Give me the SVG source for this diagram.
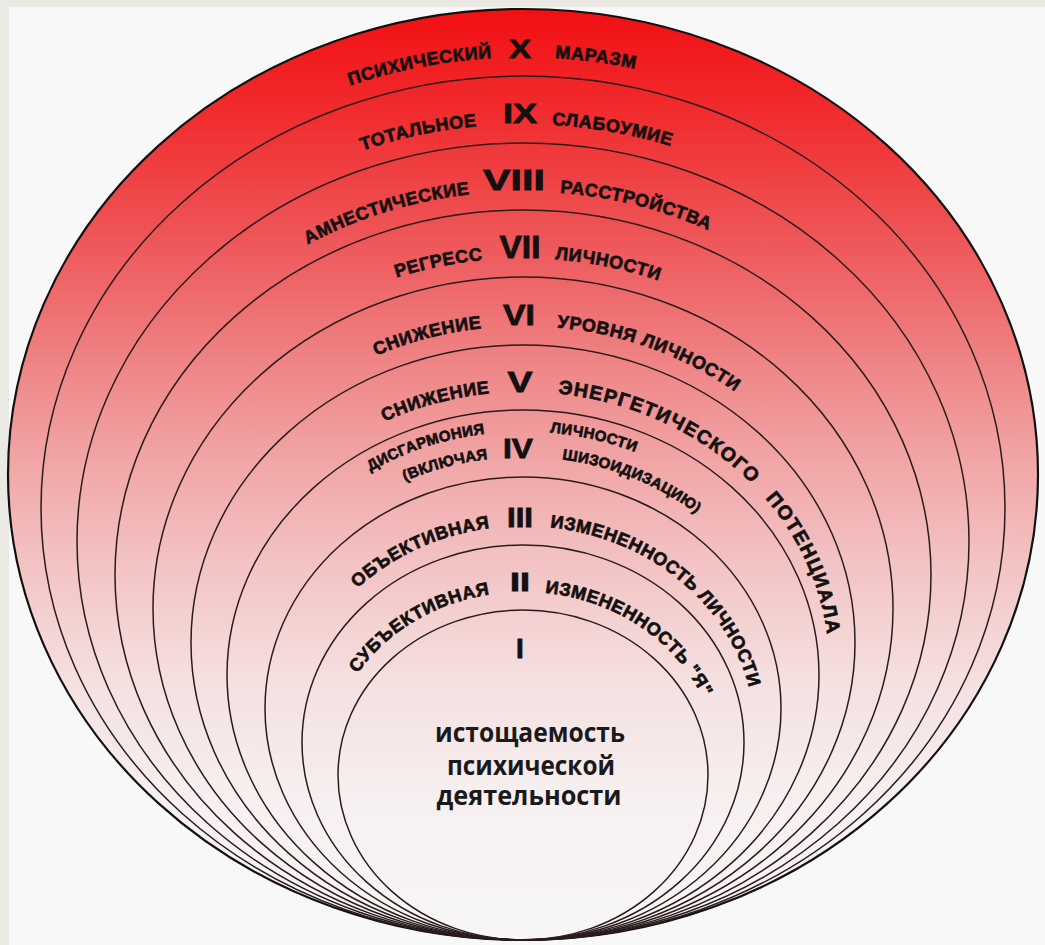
<svg xmlns="http://www.w3.org/2000/svg" width="1045" height="945" viewBox="0 0 1045 945">
<style>
.r{fill:none;stroke:#2a1c1c;stroke-width:1.5}
.w{font-family:"Liberation Sans",Arial,sans-serif;font-weight:bold;font-size:18px;letter-spacing:0.6px;fill:#141010;stroke:#141010;stroke-width:0.7}
.s{font-size:15px;letter-spacing:0.4px}
.n{font-family:"Liberation Sans",Arial,sans-serif;font-weight:bold;fill:#141010;stroke:#141010;stroke-width:0.8;text-anchor:middle}
.c{font-family:"Open Sans","Liberation Sans",sans-serif;font-weight:bold;font-size:26px;fill:#1a1a1a;text-anchor:middle}
</style>
<defs>
<linearGradient id="g" gradientUnits="userSpaceOnUse" x1="0" y1="9" x2="0" y2="940">
<stop offset="0" stop-color="#f20f12"/>
<stop offset="0.119" stop-color="#f02e30"/>
<stop offset="0.259" stop-color="#ee5a5c"/>
<stop offset="0.398" stop-color="#ef8a8b"/>
<stop offset="0.484" stop-color="#f1a5a6"/>
<stop offset="0.592" stop-color="#f3c2c2"/>
<stop offset="0.721" stop-color="#f5e0e0"/>
<stop offset="0.85" stop-color="#f7f0f0"/>
<stop offset="1" stop-color="#f8f6f6"/>
</linearGradient>
<path id="pL10" d="M523,940 A491.2,441.4 0 0 1 492,58.1"/>
<path id="pR10" d="M555,58.1 A491.2,441.4 0 0 1 523,940"/>
<path id="pL9" d="M523,940 A456.1,407.9 0 0 1 477,126.3"/>
<path id="pR9" d="M552,125 A456.1,407.9 0 0 1 523,940"/>
<path id="pL8" d="M523,940 A418.6,374.4 0 0 1 470,194.2"/>
<path id="pR8" d="M560,192.7 A418.6,374.4 0 0 1 523,940"/>
<path id="pL7" d="M523,940 A380.6,340.9 0 0 1 483,260.1"/>
<path id="pR7" d="M555,259.4 A380.6,340.9 0 0 1 523,940"/>
<path id="pL6" d="M523,940 A342.6,307 0 0 1 482,328.2"/>
<path id="pR6" d="M557,327.5 A342.6,307 0 0 1 523,940"/>
<path id="pL5" d="M523,940 A306.1,274.1 0 0 1 490,393.4"/>
<path id="pR5" d="M558,393.6 A306.1,274.1 0 0 1 523,940"/>
<path id="pL4a" d="M523,940 A283.84,254.28 0 0 1 485,433.73"/>
<path id="pR4a" d="M550,432.59 A283.84,254.28 0 0 1 523,940"/>
<path id="pL4b" d="M523,940 A269.4,241.55 0 0 1 488,458.95"/>
<path id="pR4b" d="M562,459.44 A269.4,241.55 0 0 1 523,940"/>
<path id="pL3" d="M523,940 A231.4,207 0 0 1 490,528.1"/>
<path id="pR3" d="M550,527.4 A231.4,207 0 0 1 523,940"/>
<path id="pL2" d="M523,940 A195.1,174.1 0 0 1 490,594.3"/>
<path id="pR2" d="M545,592.9 A195.1,174.1 0 0 1 523,940"/>
</defs>
<rect width="1045" height="945" fill="#f8f8f8"/>
<rect width="9" height="945" fill="#ebe9e3"/>
<rect width="1045" height="7" fill="#ebe9e3"/>

<g id="ring-X">
<ellipse cx="523" cy="474.5" rx="515" ry="465.5" fill="url(#g)" stroke="#111" stroke-width="2.2"/>
<text class="w"><textPath href="#pL10" startOffset="100%" text-anchor="end">ПСИХИЧЕСКИЙ</textPath></text>
<text class="n" x="520" y="58" font-size="25" textLength="22" lengthAdjust="spacingAndGlyphs">X</text>
<text class="w"><textPath href="#pR10" startOffset="0">МАРАЗМ</textPath></text>
</g>
<g id="ring-IX">
<ellipse class="r" cx="523" cy="508" rx="482" ry="432"/>
<text class="w"><textPath href="#pL9" startOffset="100%" text-anchor="end">ТОТАЛЬНОЕ</textPath></text>
<text class="n" x="520" y="123" font-size="28" textLength="34" lengthAdjust="spacingAndGlyphs">IX</text>
<text class="w"><textPath href="#pR9" startOffset="0">СЛАБОУМИЕ</textPath></text>
</g>
<g id="ring-VIII">
<ellipse class="r" cx="523" cy="541.5" rx="446" ry="398.5"/>
<text class="w"><textPath href="#pL8" startOffset="100%" text-anchor="end">АМНЕСТИЧЕСКИЕ</textPath></text>
<text class="n" x="514" y="190" font-size="30" textLength="62" lengthAdjust="spacingAndGlyphs">VIII</text>
<text class="w"><textPath href="#pR8" startOffset="0">РАССТРОЙСТВА</textPath></text>
</g>
<g id="ring-VII">
<ellipse class="r" cx="523" cy="575" rx="408" ry="365"/>
<text class="w"><textPath href="#pL7" startOffset="100%" text-anchor="end">РЕГРЕСС</textPath></text>
<text class="n" x="520" y="258" font-size="31" textLength="41" lengthAdjust="spacingAndGlyphs">VII</text>
<text class="w"><textPath href="#pR7" startOffset="0">ЛИЧНОСТИ</textPath></text>
</g>
<g id="ring-VI">
<ellipse class="r" cx="523" cy="608.5" rx="370" ry="331.5"/>
<text class="w"><textPath href="#pL6" startOffset="100%" text-anchor="end">СНИЖЕНИЕ</textPath></text>
<text class="n" x="519" y="325" font-size="30" textLength="32" lengthAdjust="spacingAndGlyphs">VI</text>
<text class="w"><textPath href="#pR6" startOffset="0">УРОВНЯ ЛИЧНОСТИ</textPath></text>
</g>
<g id="ring-V">
<ellipse class="r" cx="523" cy="642.5" rx="332" ry="297.5"/>
<text class="w"><textPath href="#pL5" startOffset="100%" text-anchor="end">СНИЖЕНИЕ</textPath></text>
<text class="n" x="520" y="392" font-size="30" textLength="25" lengthAdjust="spacingAndGlyphs">V</text>
<text class="w" style="font-size:19.5px;letter-spacing:1.4px;word-spacing:12px"><textPath href="#pR5" startOffset="0">ЭНЕРГЕТИЧЕСКОГО ПОТЕНЦИАЛА</textPath></text>
</g>
<g id="ring-IV">
<ellipse class="r" cx="523" cy="675" rx="296" ry="265"/>
<text class="w s"><textPath href="#pL4a" startOffset="100%" text-anchor="end">ДИСГАРМОНИЯ</textPath></text>
<text class="w s"><textPath href="#pL4b" startOffset="100%" text-anchor="end">(ВКЛЮЧАЯ</textPath></text>
<text class="n" x="518" y="458" font-size="28" textLength="30" lengthAdjust="spacingAndGlyphs">IV</text>
<text class="w s"><textPath href="#pR4a" startOffset="0">ЛИЧНОСТИ</textPath></text>
<text class="w s"><textPath href="#pR4b" startOffset="0">ШИЗОИДИЗАЦИЮ)</textPath></text>
</g>
<g id="ring-III">
<ellipse class="r" cx="523" cy="708.5" rx="258" ry="231.5"/>
<text class="w"><textPath href="#pL3" startOffset="100%" text-anchor="end">ОБЪЕКТИВНАЯ</textPath></text>
<text class="n" x="520" y="527" font-size="28" textLength="26" lengthAdjust="spacingAndGlyphs">III</text>
<text class="w"><textPath href="#pR3" startOffset="0">ИЗМЕНЕННОСТЬ ЛИЧНОСТИ</textPath></text>
</g>
<g id="ring-II">
<ellipse class="r" cx="523" cy="742.5" rx="221" ry="197.5"/>
<text class="w"><textPath href="#pL2" startOffset="100%" text-anchor="end">СУБЪЕКТИВНАЯ</textPath></text>
<text class="n" x="520" y="591" font-size="26" textLength="20" lengthAdjust="spacingAndGlyphs">II</text>
<text class="w"><textPath href="#pR2" startOffset="0">ИЗМЕНЕННОСТЬ "Я"</textPath></text>
</g>
<g id="ring-I">
<ellipse class="r" cx="523" cy="775" rx="185" ry="165"/>
<text class="n" x="520" y="658" font-size="28">I</text>
<text class="c" x="530" y="742" textLength="190" lengthAdjust="spacingAndGlyphs">истощаемость</text>
<text class="c" x="531" y="775" textLength="168" lengthAdjust="spacingAndGlyphs">психической</text>
<text class="c" x="529" y="805" textLength="185" lengthAdjust="spacingAndGlyphs">деятельности</text>
</g>
<g id="connectors"/>
</svg>
